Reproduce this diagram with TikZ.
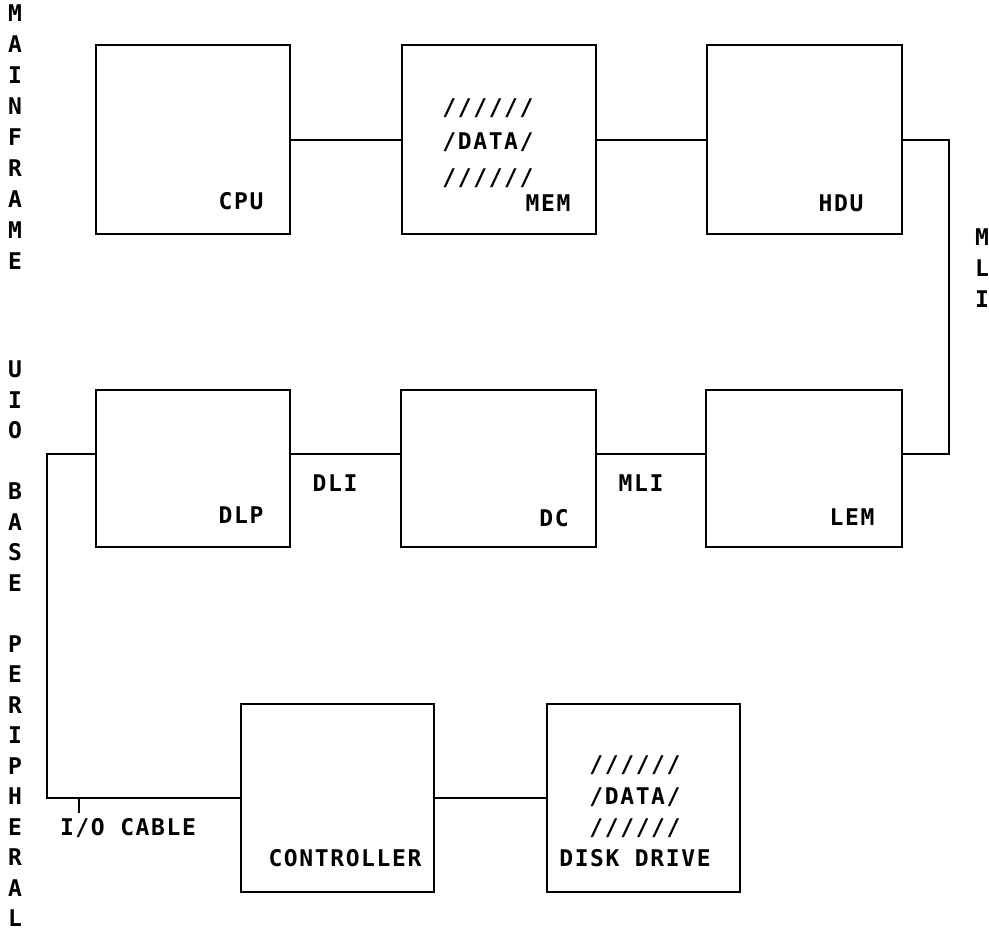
\documentclass[tikz,border=0pt]{standalone}
\usepackage{fontspec}
\newfontfamily\tyfont[LetterSpace=7]{DejaVu Sans Mono Bold}
\begin{document}
\begin{tikzpicture}[x=1pt,y=-1pt,
  box/.style={draw, line width=2.2pt, minimum width=194pt, minimum height=189pt, inner sep=0pt},
  lbl/.style={font=\tyfont\fontsize{23}{31}\selectfont, inner sep=0pt, text height=17pt, text depth=0pt},
  wire/.style={line width=2.2pt}]
\useasboundingbox[fill=white] (0,0) rectangle (989,932);
% boxes
\node[box] (cpu) at (193,139.5) {};
\node[box] (mem) at (499,139.5) {};
\node[box, minimum width=195pt] (hdu) at (804.5,139.5) {};
\node[box, minimum height=157pt] (dlp) at (193,468.5) {};
\node[box, minimum height=157pt, minimum width=195pt] (dc) at (498.5,468.5) {};
\node[box, minimum height=157pt, minimum width=196pt] (lem) at (804,468.5) {};
\node[box, minimum width=193pt, minimum height=188pt] (ctl) at (337.5,798) {};
\node[box, minimum width=193pt, minimum height=188pt] (disk) at (643.5,798) {};
% routing coordinates
\coordinate (toprow) at (0,140);
\coordinate (midrow) at (0,454);
\coordinate (botrow) at (0,798);
\coordinate (rtx) at (949,0);
\coordinate (ltx) at (47,0);
\coordinate (tickstart) at (79,798);
\coordinate (tickend) at (79,813);
% wires
\draw[wire] (cpu.east |- toprow) -- (mem.west |- toprow);
\draw[wire] (mem.east |- toprow) -- (hdu.west |- toprow);
\draw[wire] (hdu.east |- toprow) -- (rtx |- toprow) -- (rtx |- midrow) -- (lem.east |- midrow);
\draw[wire] (dlp.east |- midrow) -- (dc.west |- midrow);
\draw[wire] (dc.east |- midrow) -- (lem.west |- midrow);
\draw[wire] (dlp.west |- midrow) -- (ltx |- midrow) -- (ltx |- botrow) -- (ctl.west |- botrow);
\draw[wire] (ctl.east |- botrow) -- (disk.west |- botrow);
\draw[wire] (tickstart) -- (tickend);
% labels
\node[lbl] (cpul) at (241,201) {CPU};
\node[lbl] (meml) at (548,203) {MEM};
\node[lbl] (hdul) at (841,203) {HDU};
\node[lbl] (dlpl) at (241,515) {DLP};
\node[lbl] (dcl) at (554,518) {DC};
\node[lbl] (leml) at (852,517) {LEM};
\node[lbl] (dlil) at (335,483) {DLI};
\node[lbl] (mlil) at (641,483) {MLI};
\node[lbl] (iol) at (128,827) {I/O CABLE};
\node[lbl] (ctll) at (345,858) {CONTROLLER};
\node[lbl] (diskl) at (635,858) {DISK DRIVE};
\node[lbl] (md1) at (488,107) {//////};
\node[lbl] (md2) at (488,141) {/DATA/};
\node[lbl] (md3) at (488,177) {//////};
\node[lbl] (dd1) at (635,764) {//////};
\node[lbl] (dd2) at (635,796) {/DATA/};
\node[lbl] (dd3) at (635,827) {//////};
% vertical captions
\foreach [count=\i] \l in {M,A,I,N,F,R,A,M,E}
  \node[lbl] (mf\i) at (15,{13+31*(\i-1)}) {\l};
\foreach [count=\i] \l in {U,I,O,{},B,A,S,E,{},P,E,R,I,P,H,E,R,A,L}
  \node[lbl] (up\i) at (15,{369+30.5*(\i-1)}) {\l};
\foreach [count=\i] \l in {M,L,I}
  \node[lbl] (ml\i) at (982,{237+31*(\i-1)}) {\l};
\end{tikzpicture}
\end{document}
